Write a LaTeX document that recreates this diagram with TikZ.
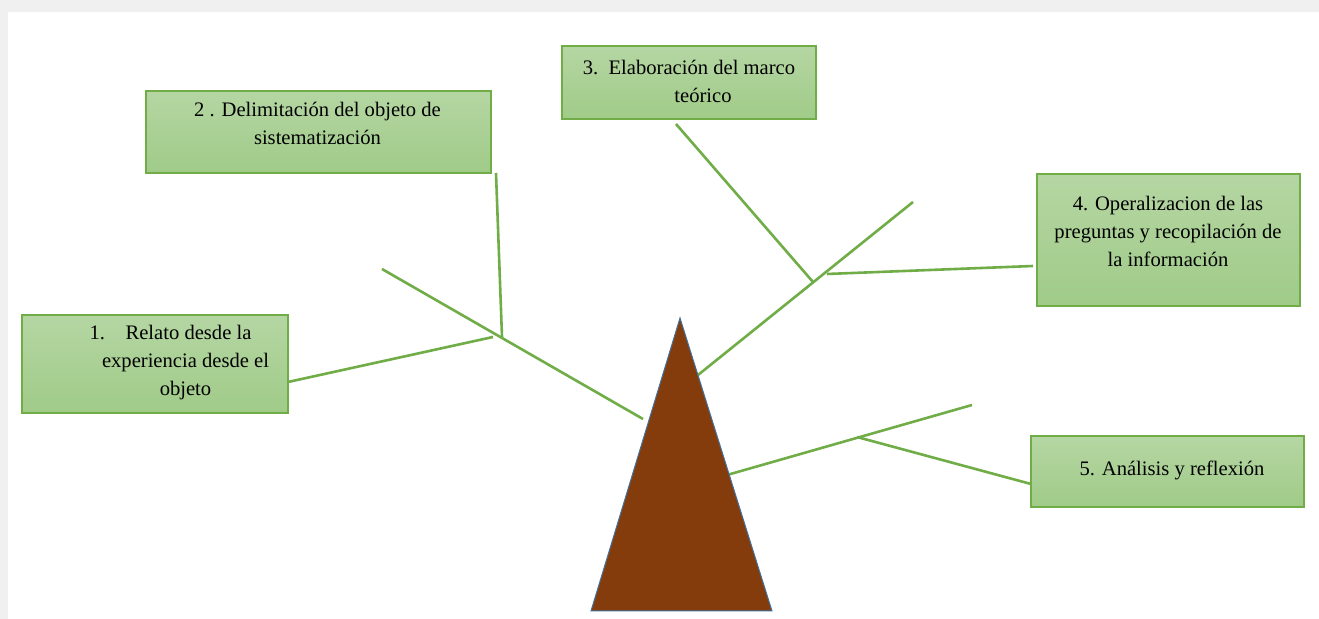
\documentclass[tikz,border=0pt]{standalone}
\usepackage{fontspec}
\setmainfont{Liberation Serif}
\usepackage{tikz}
\definecolor{leafgreen}{HTML}{70AD47}
\definecolor{boxtop}{HTML}{B5D6A3}
\definecolor{boxbottom}{HTML}{A0CB88}
\definecolor{trunkbrown}{HTML}{843C0C}
\definecolor{trunkedge}{HTML}{41719C}
\definecolor{framegray}{HTML}{F0F0F0}
\tikzset{
  stagebox/.style={draw=leafgreen, line width=0.75pt, top color=boxtop, bottom color=boxbottom, inner sep=0pt},
  stagetext/.style={align=center, inner sep=0pt, font=\fontsize{10.3}{14}\selectfont},
  branch/.style={draw=leafgreen, line width=1.3pt}
}

\begin{document}
\begin{tikzpicture}[x=0.5pt, y=-0.5pt]
\useasboundingbox (0,0) rectangle (1319,619);
\fill[white] (0,0) rectangle (1319,619);
\fill[framegray] (0,0) rectangle (1319,12);
\fill[framegray] (0,12) rectangle (8,619);

% cajas de las etapas
\node[stagebox, minimum width=133pt, minimum height=49pt]     (b1) at (155,364)    {};
\node[stagebox, minimum width=172.5pt, minimum height=41pt]   (b2) at (318.5,132)  {};
\node[stagebox, minimum width=127pt, minimum height=36.5pt]   (b3) at (689,82.5)   {};
\node[stagebox, minimum width=131.5pt, minimum height=66pt]   (b4) at (1168.5,240) {};
\node[stagebox, minimum width=136.5pt, minimum height=35.5pt] (b5) at (1167.5,471.5) {};

\node[stagetext] (t1) at (185.5,363) {1.\hspace{1em}Relato desde la\hspace*{15pt}\\experiencia desde el\\objeto};
\node[stagetext] (t2) at (317.5,123) {2 . Delimitación del objeto de\\sistematización};
\node[stagetext] (t3) at (689,81)    {3.\ \ Elaboración del marco\\\hspace*{14pt}teórico};
\node[stagetext] (t4) at (1168,231.5) {4. Operalizacion de las\\preguntas y recopilación de\\la información};
\node[stagetext] (t5) at (1172,470)  {5. Análisis y reflexión};

% puntos de las ramas
\coordinate (l0) at (643,419);
\coordinate (l1) at (382,269);
\coordinate (j1) at (502,337);
\coordinate (j2) at (493,337);
\coordinate (e1) at (288,382);
\coordinate (e2) at (496,173);

\coordinate (r0) at (698,375);
\coordinate (r1) at (913,202);
\coordinate (j3) at (813,282);
\coordinate (j4) at (827,274);
\coordinate (e3) at (676,124);
\coordinate (e4) at (1033,266);

\coordinate (s0) at (727,475);
\coordinate (s1) at (972,405);
\coordinate (j5) at (857,437);
\coordinate (e5) at (1031,484);

\draw[branch] (l0) -- (l1);
\draw[branch] (e2) -- (j1);
\draw[branch] (e1) -- (j2);
\draw[branch] (r0) -- (r1);
\draw[branch] (e3) -- (j3);
\draw[branch] (j4) -- (e4);
\draw[branch] (s0) -- (s1);
\draw[branch] (j5) -- (e5);

% tronco
\filldraw[fill=trunkbrown, draw=trunkedge, line width=0.5pt] (680,318) -- (772,611) -- (591,611) -- cycle;
\end{tikzpicture}
\end{document}
